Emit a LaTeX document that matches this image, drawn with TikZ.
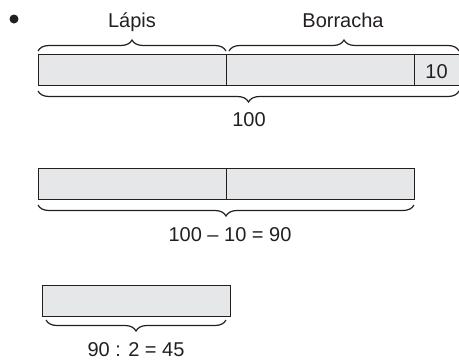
\documentclass[tikz,border=0pt]{standalone}
\usepackage{fontspec}
\setmainfont{Liberation Sans}
\usetikzlibrary{decorations.pathreplacing}
\definecolor{barfill}{RGB}{230,231,232}
\definecolor{ink}{RGB}{35,31,32}
\tikzset{
  barcell/.style={draw=ink,fill=barfill,line width=0.5pt},
  curly/.style={draw=ink,line width=0.6pt,decorate,decoration={brace,amplitude=5.5pt}},
  lbl/.style={text=ink,anchor=base,inner sep=0pt,font=\fontsize{10}{12}\selectfont}
}
\begin{document}
\begin{tikzpicture}[x=0.5pt,y=-0.5pt]
\useasboundingbox (0,0) rectangle (459,360);
\fill[ink] (14,19) circle (2.25pt);
\node[lbl] (lapis) at (132,27) {Lápis};
\node[lbl] (borracha) at (343,27) {Borracha};
\draw[curly] (38,51) -- (226,51);
\draw[curly] (229,51) -- (459,51);
\draw[barcell] (38,54) rectangle (226,85);
\draw[barcell] (226,54) rectangle (414,85);
\draw[barcell] (414,54) rectangle (460,85);
\node[lbl] (dez) at (436.5,78) {10};
\draw[curly] (459,91) -- (38,91);
\node[lbl] (cem) at (249,126) {100};
\draw[barcell] (38,168) rectangle (226,199);
\draw[barcell] (226,168) rectangle (414,199);
\draw[curly] (414,205) -- (38,205);
\node[lbl] (diferenca) at (230,241.5) {100 – 10 = 90};
\draw[barcell] (42,285) rectangle (230,316);
\draw[curly] (226,320) -- (46,320);
\node[lbl] (metade) at (136,356) {90 : 2 = 45};
\end{tikzpicture}
\end{document}
